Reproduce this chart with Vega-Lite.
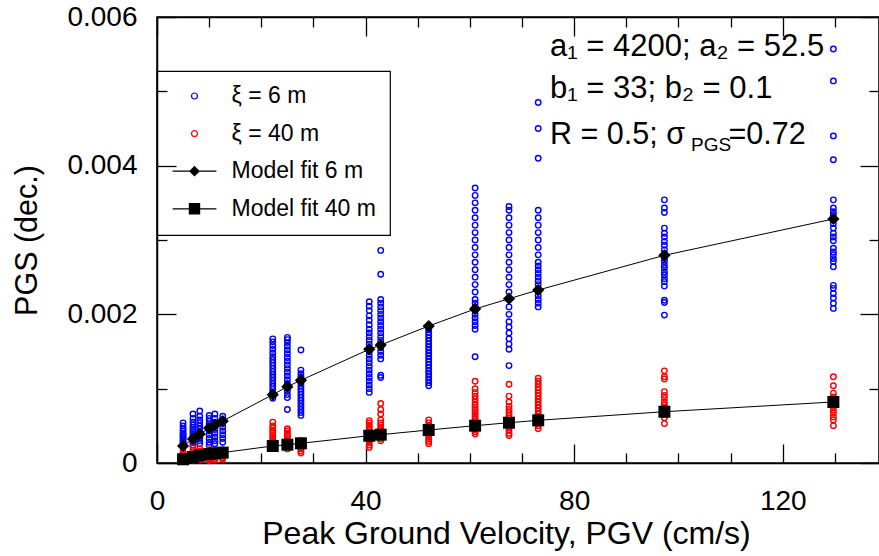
{
"$schema":"https://vega.github.io/schema/vega-lite/v6.json",
"width":722,"height":446,
"autosize":{"type":"none"},
"padding":{"left":157,"top":17,"right":0,"bottom":93},
"background":"white",
"datasets":{
"obs":[
{"pgv":5.0,"pgs":0.00022,"s":"ξ = 6 m"},{"pgv":5.0,"pgs":0.00025,"s":"ξ = 6 m"},{"pgv":5.0,"pgs":0.00028,"s":"ξ = 6 m"},{"pgv":5.0,"pgs":0.0003,"s":"ξ = 6 m"},{"pgv":5.0,"pgs":0.00032,"s":"ξ = 6 m"},{"pgv":5.0,"pgs":0.00034,"s":"ξ = 6 m"},{"pgv":5.0,"pgs":0.00036,"s":"ξ = 6 m"},{"pgv":5.0,"pgs":0.00038,"s":"ξ = 6 m"},{"pgv":5.0,"pgs":0.0004,"s":"ξ = 6 m"},{"pgv":5.0,"pgs":0.00043,"s":"ξ = 6 m"},{"pgv":5.0,"pgs":0.00046,"s":"ξ = 6 m"},{"pgv":5.0,"pgs":0.0005,"s":"ξ = 6 m"},{"pgv":5.0,"pgs":0.00054,"s":"ξ = 6 m"},
{"pgv":6.9,"pgs":0.00024,"s":"ξ = 6 m"},{"pgv":6.9,"pgs":0.00027,"s":"ξ = 6 m"},{"pgv":6.9,"pgs":0.0003,"s":"ξ = 6 m"},{"pgv":6.9,"pgs":0.00033,"s":"ξ = 6 m"},{"pgv":6.9,"pgs":0.00036,"s":"ξ = 6 m"},{"pgv":6.9,"pgs":0.00039,"s":"ξ = 6 m"},{"pgv":6.9,"pgs":0.00042,"s":"ξ = 6 m"},{"pgv":6.9,"pgs":0.00045,"s":"ξ = 6 m"},{"pgv":6.9,"pgs":0.00048,"s":"ξ = 6 m"},{"pgv":6.9,"pgs":0.00051,"s":"ξ = 6 m"},{"pgv":6.9,"pgs":0.00055,"s":"ξ = 6 m"},{"pgv":6.9,"pgs":0.0006,"s":"ξ = 6 m"},{"pgv":6.9,"pgs":0.00066,"s":"ξ = 6 m"},
{"pgv":8.2,"pgs":0.00026,"s":"ξ = 6 m"},{"pgv":8.2,"pgs":0.0003,"s":"ξ = 6 m"},{"pgv":8.2,"pgs":0.00034,"s":"ξ = 6 m"},{"pgv":8.2,"pgs":0.00038,"s":"ξ = 6 m"},{"pgv":8.2,"pgs":0.00042,"s":"ξ = 6 m"},{"pgv":8.2,"pgs":0.00046,"s":"ξ = 6 m"},{"pgv":8.2,"pgs":0.0005,"s":"ξ = 6 m"},{"pgv":8.2,"pgs":0.00054,"s":"ξ = 6 m"},{"pgv":8.2,"pgs":0.00058,"s":"ξ = 6 m"},{"pgv":8.2,"pgs":0.00063,"s":"ξ = 6 m"},{"pgv":8.2,"pgs":0.0007,"s":"ξ = 6 m"},
{"pgv":10.0,"pgs":0.00024,"s":"ξ = 6 m"},{"pgv":10.0,"pgs":0.00028,"s":"ξ = 6 m"},{"pgv":10.0,"pgs":0.00033,"s":"ξ = 6 m"},{"pgv":10.0,"pgs":0.00038,"s":"ξ = 6 m"},{"pgv":10.0,"pgs":0.00043,"s":"ξ = 6 m"},{"pgv":10.0,"pgs":0.00048,"s":"ξ = 6 m"},{"pgv":10.0,"pgs":0.00052,"s":"ξ = 6 m"},{"pgv":10.0,"pgs":0.00056,"s":"ξ = 6 m"},{"pgv":10.0,"pgs":0.0006,"s":"ξ = 6 m"},{"pgv":10.0,"pgs":0.00064,"s":"ξ = 6 m"},
{"pgv":11.1,"pgs":0.00026,"s":"ξ = 6 m"},{"pgv":11.1,"pgs":0.0003,"s":"ξ = 6 m"},{"pgv":11.1,"pgs":0.00035,"s":"ξ = 6 m"},{"pgv":11.1,"pgs":0.0004,"s":"ξ = 6 m"},{"pgv":11.1,"pgs":0.00045,"s":"ξ = 6 m"},{"pgv":11.1,"pgs":0.0005,"s":"ξ = 6 m"},{"pgv":11.1,"pgs":0.00055,"s":"ξ = 6 m"},{"pgv":11.1,"pgs":0.0006,"s":"ξ = 6 m"},{"pgv":11.1,"pgs":0.00066,"s":"ξ = 6 m"},
{"pgv":12.6,"pgs":0.00028,"s":"ξ = 6 m"},{"pgv":12.6,"pgs":0.00033,"s":"ξ = 6 m"},{"pgv":12.6,"pgs":0.00038,"s":"ξ = 6 m"},{"pgv":12.6,"pgs":0.00043,"s":"ξ = 6 m"},{"pgv":12.6,"pgs":0.00048,"s":"ξ = 6 m"},{"pgv":12.6,"pgs":0.00053,"s":"ξ = 6 m"},{"pgv":12.6,"pgs":0.00058,"s":"ξ = 6 m"},{"pgv":12.6,"pgs":0.00063,"s":"ξ = 6 m"},
{"pgv":22.2,"pgs":0.00087,"s":"ξ = 6 m"},{"pgv":22.2,"pgs":0.00091,"s":"ξ = 6 m"},{"pgv":22.2,"pgs":0.00095,"s":"ξ = 6 m"},{"pgv":22.2,"pgs":0.00099,"s":"ξ = 6 m"},{"pgv":22.2,"pgs":0.00103,"s":"ξ = 6 m"},{"pgv":22.2,"pgs":0.00107,"s":"ξ = 6 m"},{"pgv":22.2,"pgs":0.00111,"s":"ξ = 6 m"},{"pgv":22.2,"pgs":0.00115,"s":"ξ = 6 m"},{"pgv":22.2,"pgs":0.00119,"s":"ξ = 6 m"},{"pgv":22.2,"pgs":0.00123,"s":"ξ = 6 m"},{"pgv":22.2,"pgs":0.00127,"s":"ξ = 6 m"},{"pgv":22.2,"pgs":0.00131,"s":"ξ = 6 m"},{"pgv":22.2,"pgs":0.00135,"s":"ξ = 6 m"},{"pgv":22.2,"pgs":0.00139,"s":"ξ = 6 m"},{"pgv":22.2,"pgs":0.00143,"s":"ξ = 6 m"},{"pgv":22.2,"pgs":0.00148,"s":"ξ = 6 m"},{"pgv":22.2,"pgs":0.00153,"s":"ξ = 6 m"},{"pgv":22.2,"pgs":0.00158,"s":"ξ = 6 m"},{"pgv":22.2,"pgs":0.00163,"s":"ξ = 6 m"},{"pgv":22.2,"pgs":0.00167,"s":"ξ = 6 m"},
{"pgv":25.0,"pgs":0.00072,"s":"ξ = 6 m"},{"pgv":25.0,"pgs":0.00088,"s":"ξ = 6 m"},{"pgv":25.0,"pgs":0.00092,"s":"ξ = 6 m"},{"pgv":25.0,"pgs":0.00097,"s":"ξ = 6 m"},{"pgv":25.0,"pgs":0.00102,"s":"ξ = 6 m"},{"pgv":25.0,"pgs":0.00107,"s":"ξ = 6 m"},{"pgv":25.0,"pgs":0.00112,"s":"ξ = 6 m"},{"pgv":25.0,"pgs":0.00117,"s":"ξ = 6 m"},{"pgv":25.0,"pgs":0.00122,"s":"ξ = 6 m"},{"pgv":25.0,"pgs":0.00127,"s":"ξ = 6 m"},{"pgv":25.0,"pgs":0.00132,"s":"ξ = 6 m"},{"pgv":25.0,"pgs":0.00137,"s":"ξ = 6 m"},{"pgv":25.0,"pgs":0.00142,"s":"ξ = 6 m"},{"pgv":25.0,"pgs":0.00147,"s":"ξ = 6 m"},{"pgv":25.0,"pgs":0.00152,"s":"ξ = 6 m"},{"pgv":25.0,"pgs":0.00157,"s":"ξ = 6 m"},{"pgv":25.0,"pgs":0.00162,"s":"ξ = 6 m"},{"pgv":25.0,"pgs":0.00166,"s":"ξ = 6 m"},{"pgv":25.0,"pgs":0.00169,"s":"ξ = 6 m"},
{"pgv":27.6,"pgs":0.00064,"s":"ξ = 6 m"},{"pgv":27.6,"pgs":0.00068,"s":"ξ = 6 m"},{"pgv":27.6,"pgs":0.00072,"s":"ξ = 6 m"},{"pgv":27.6,"pgs":0.00076,"s":"ξ = 6 m"},{"pgv":27.6,"pgs":0.0008,"s":"ξ = 6 m"},{"pgv":27.6,"pgs":0.00084,"s":"ξ = 6 m"},{"pgv":27.6,"pgs":0.00088,"s":"ξ = 6 m"},{"pgv":27.6,"pgs":0.00092,"s":"ξ = 6 m"},{"pgv":27.6,"pgs":0.00096,"s":"ξ = 6 m"},{"pgv":27.6,"pgs":0.001,"s":"ξ = 6 m"},{"pgv":27.6,"pgs":0.00104,"s":"ξ = 6 m"},{"pgv":27.6,"pgs":0.00108,"s":"ξ = 6 m"},{"pgv":27.6,"pgs":0.00112,"s":"ξ = 6 m"},{"pgv":27.6,"pgs":0.00116,"s":"ξ = 6 m"},{"pgv":27.6,"pgs":0.0012,"s":"ξ = 6 m"},{"pgv":27.6,"pgs":0.00125,"s":"ξ = 6 m"},{"pgv":27.6,"pgs":0.00152,"s":"ξ = 6 m"},
{"pgv":40.7,"pgs":0.00095,"s":"ξ = 6 m"},{"pgv":40.7,"pgs":0.001,"s":"ξ = 6 m"},{"pgv":40.7,"pgs":0.00105,"s":"ξ = 6 m"},{"pgv":40.7,"pgs":0.0011,"s":"ξ = 6 m"},{"pgv":40.7,"pgs":0.00115,"s":"ξ = 6 m"},{"pgv":40.7,"pgs":0.0012,"s":"ξ = 6 m"},{"pgv":40.7,"pgs":0.00125,"s":"ξ = 6 m"},{"pgv":40.7,"pgs":0.0013,"s":"ξ = 6 m"},{"pgv":40.7,"pgs":0.00135,"s":"ξ = 6 m"},{"pgv":40.7,"pgs":0.0014,"s":"ξ = 6 m"},{"pgv":40.7,"pgs":0.00145,"s":"ξ = 6 m"},{"pgv":40.7,"pgs":0.0015,"s":"ξ = 6 m"},{"pgv":40.7,"pgs":0.00155,"s":"ξ = 6 m"},{"pgv":40.7,"pgs":0.0016,"s":"ξ = 6 m"},{"pgv":40.7,"pgs":0.00165,"s":"ξ = 6 m"},{"pgv":40.7,"pgs":0.0017,"s":"ξ = 6 m"},{"pgv":40.7,"pgs":0.00175,"s":"ξ = 6 m"},{"pgv":40.7,"pgs":0.0018,"s":"ξ = 6 m"},{"pgv":40.7,"pgs":0.00186,"s":"ξ = 6 m"},{"pgv":40.7,"pgs":0.00192,"s":"ξ = 6 m"},{"pgv":40.7,"pgs":0.00198,"s":"ξ = 6 m"},{"pgv":40.7,"pgs":0.00205,"s":"ξ = 6 m"},{"pgv":40.7,"pgs":0.00211,"s":"ξ = 6 m"},{"pgv":40.7,"pgs":0.00217,"s":"ξ = 6 m"},
{"pgv":42.9,"pgs":0.00115,"s":"ξ = 6 m"},{"pgv":42.9,"pgs":0.00118,"s":"ξ = 6 m"},{"pgv":42.9,"pgs":0.0014,"s":"ξ = 6 m"},{"pgv":42.9,"pgs":0.00145,"s":"ξ = 6 m"},{"pgv":42.9,"pgs":0.0015,"s":"ξ = 6 m"},{"pgv":42.9,"pgs":0.00155,"s":"ξ = 6 m"},{"pgv":42.9,"pgs":0.0016,"s":"ξ = 6 m"},{"pgv":42.9,"pgs":0.00165,"s":"ξ = 6 m"},{"pgv":42.9,"pgs":0.0017,"s":"ξ = 6 m"},{"pgv":42.9,"pgs":0.00175,"s":"ξ = 6 m"},{"pgv":42.9,"pgs":0.0018,"s":"ξ = 6 m"},{"pgv":42.9,"pgs":0.00185,"s":"ξ = 6 m"},{"pgv":42.9,"pgs":0.0019,"s":"ξ = 6 m"},{"pgv":42.9,"pgs":0.00195,"s":"ξ = 6 m"},{"pgv":42.9,"pgs":0.002,"s":"ξ = 6 m"},{"pgv":42.9,"pgs":0.00205,"s":"ξ = 6 m"},{"pgv":42.9,"pgs":0.0021,"s":"ξ = 6 m"},{"pgv":42.9,"pgs":0.00215,"s":"ξ = 6 m"},{"pgv":42.9,"pgs":0.0022,"s":"ξ = 6 m"},{"pgv":42.9,"pgs":0.00254,"s":"ξ = 6 m"},{"pgv":42.9,"pgs":0.00286,"s":"ξ = 6 m"},
{"pgv":52.1,"pgs":0.00104,"s":"ξ = 6 m"},{"pgv":52.1,"pgs":0.00108,"s":"ξ = 6 m"},{"pgv":52.1,"pgs":0.00112,"s":"ξ = 6 m"},{"pgv":52.1,"pgs":0.00116,"s":"ξ = 6 m"},{"pgv":52.1,"pgs":0.0012,"s":"ξ = 6 m"},{"pgv":52.1,"pgs":0.00124,"s":"ξ = 6 m"},{"pgv":52.1,"pgs":0.00128,"s":"ξ = 6 m"},{"pgv":52.1,"pgs":0.00132,"s":"ξ = 6 m"},{"pgv":52.1,"pgs":0.00136,"s":"ξ = 6 m"},{"pgv":52.1,"pgs":0.0014,"s":"ξ = 6 m"},{"pgv":52.1,"pgs":0.00144,"s":"ξ = 6 m"},{"pgv":52.1,"pgs":0.00148,"s":"ξ = 6 m"},{"pgv":52.1,"pgs":0.00152,"s":"ξ = 6 m"},{"pgv":52.1,"pgs":0.00156,"s":"ξ = 6 m"},{"pgv":52.1,"pgs":0.0016,"s":"ξ = 6 m"},{"pgv":52.1,"pgs":0.00164,"s":"ξ = 6 m"},{"pgv":52.1,"pgs":0.00168,"s":"ξ = 6 m"},{"pgv":52.1,"pgs":0.00172,"s":"ξ = 6 m"},{"pgv":52.1,"pgs":0.00176,"s":"ξ = 6 m"},{"pgv":52.1,"pgs":0.0018,"s":"ξ = 6 m"},{"pgv":52.1,"pgs":0.00184,"s":"ξ = 6 m"},
{"pgv":61.0,"pgs":0.00143,"s":"ξ = 6 m"},{"pgv":61.0,"pgs":0.0018,"s":"ξ = 6 m"},{"pgv":61.0,"pgs":0.00185,"s":"ξ = 6 m"},{"pgv":61.0,"pgs":0.0019,"s":"ξ = 6 m"},{"pgv":61.0,"pgs":0.00195,"s":"ξ = 6 m"},{"pgv":61.0,"pgs":0.002,"s":"ξ = 6 m"},{"pgv":61.0,"pgs":0.00205,"s":"ξ = 6 m"},{"pgv":61.0,"pgs":0.0021,"s":"ξ = 6 m"},{"pgv":61.0,"pgs":0.00215,"s":"ξ = 6 m"},{"pgv":61.0,"pgs":0.0022,"s":"ξ = 6 m"},{"pgv":61.0,"pgs":0.0023,"s":"ξ = 6 m"},{"pgv":61.0,"pgs":0.0024,"s":"ξ = 6 m"},{"pgv":61.0,"pgs":0.0025,"s":"ξ = 6 m"},{"pgv":61.0,"pgs":0.0026,"s":"ξ = 6 m"},{"pgv":61.0,"pgs":0.0027,"s":"ξ = 6 m"},{"pgv":61.0,"pgs":0.0028,"s":"ξ = 6 m"},{"pgv":61.0,"pgs":0.0029,"s":"ξ = 6 m"},{"pgv":61.0,"pgs":0.003,"s":"ξ = 6 m"},{"pgv":61.0,"pgs":0.0031,"s":"ξ = 6 m"},{"pgv":61.0,"pgs":0.0032,"s":"ξ = 6 m"},{"pgv":61.0,"pgs":0.0033,"s":"ξ = 6 m"},{"pgv":61.0,"pgs":0.0034,"s":"ξ = 6 m"},{"pgv":61.0,"pgs":0.0035,"s":"ξ = 6 m"},{"pgv":61.0,"pgs":0.0036,"s":"ξ = 6 m"},{"pgv":61.0,"pgs":0.0037,"s":"ξ = 6 m"},
{"pgv":67.5,"pgs":0.00131,"s":"ξ = 6 m"},{"pgv":67.5,"pgs":0.00153,"s":"ξ = 6 m"},{"pgv":67.5,"pgs":0.0016,"s":"ξ = 6 m"},{"pgv":67.5,"pgs":0.00167,"s":"ξ = 6 m"},{"pgv":67.5,"pgs":0.00175,"s":"ξ = 6 m"},{"pgv":67.5,"pgs":0.00183,"s":"ξ = 6 m"},{"pgv":67.5,"pgs":0.0019,"s":"ξ = 6 m"},{"pgv":67.5,"pgs":0.002,"s":"ξ = 6 m"},{"pgv":67.5,"pgs":0.0021,"s":"ξ = 6 m"},{"pgv":67.5,"pgs":0.0022,"s":"ξ = 6 m"},{"pgv":67.5,"pgs":0.0023,"s":"ξ = 6 m"},{"pgv":67.5,"pgs":0.0024,"s":"ξ = 6 m"},{"pgv":67.5,"pgs":0.0025,"s":"ξ = 6 m"},{"pgv":67.5,"pgs":0.0026,"s":"ξ = 6 m"},{"pgv":67.5,"pgs":0.0027,"s":"ξ = 6 m"},{"pgv":67.5,"pgs":0.0028,"s":"ξ = 6 m"},{"pgv":67.5,"pgs":0.0029,"s":"ξ = 6 m"},{"pgv":67.5,"pgs":0.003,"s":"ξ = 6 m"},{"pgv":67.5,"pgs":0.0031,"s":"ξ = 6 m"},{"pgv":67.5,"pgs":0.0032,"s":"ξ = 6 m"},{"pgv":67.5,"pgs":0.0033,"s":"ξ = 6 m"},{"pgv":67.5,"pgs":0.0034,"s":"ξ = 6 m"},{"pgv":67.5,"pgs":0.00345,"s":"ξ = 6 m"},
{"pgv":73.1,"pgs":0.0021,"s":"ξ = 6 m"},{"pgv":73.1,"pgs":0.00215,"s":"ξ = 6 m"},{"pgv":73.1,"pgs":0.0022,"s":"ξ = 6 m"},{"pgv":73.1,"pgs":0.00225,"s":"ξ = 6 m"},{"pgv":73.1,"pgs":0.0023,"s":"ξ = 6 m"},{"pgv":73.1,"pgs":0.00235,"s":"ξ = 6 m"},{"pgv":73.1,"pgs":0.0024,"s":"ξ = 6 m"},{"pgv":73.1,"pgs":0.00245,"s":"ξ = 6 m"},{"pgv":73.1,"pgs":0.0025,"s":"ξ = 6 m"},{"pgv":73.1,"pgs":0.00255,"s":"ξ = 6 m"},{"pgv":73.1,"pgs":0.0026,"s":"ξ = 6 m"},{"pgv":73.1,"pgs":0.00265,"s":"ξ = 6 m"},{"pgv":73.1,"pgs":0.0027,"s":"ξ = 6 m"},{"pgv":73.1,"pgs":0.0028,"s":"ξ = 6 m"},{"pgv":73.1,"pgs":0.0029,"s":"ξ = 6 m"},{"pgv":73.1,"pgs":0.003,"s":"ξ = 6 m"},{"pgv":73.1,"pgs":0.0031,"s":"ξ = 6 m"},{"pgv":73.1,"pgs":0.0032,"s":"ξ = 6 m"},{"pgv":73.1,"pgs":0.0033,"s":"ξ = 6 m"},{"pgv":73.1,"pgs":0.0034,"s":"ξ = 6 m"},{"pgv":73.1,"pgs":0.0041,"s":"ξ = 6 m"},{"pgv":73.1,"pgs":0.0045,"s":"ξ = 6 m"},{"pgv":73.1,"pgs":0.00485,"s":"ξ = 6 m"},
{"pgv":97.3,"pgs":0.00354,"s":"ξ = 6 m"},{"pgv":97.3,"pgs":0.00343,"s":"ξ = 6 m"},{"pgv":97.3,"pgs":0.00337,"s":"ξ = 6 m"},{"pgv":97.3,"pgs":0.00316,"s":"ξ = 6 m"},{"pgv":97.3,"pgs":0.00309,"s":"ξ = 6 m"},{"pgv":97.3,"pgs":0.00304,"s":"ξ = 6 m"},{"pgv":97.3,"pgs":0.00298,"s":"ξ = 6 m"},{"pgv":97.3,"pgs":0.00293,"s":"ξ = 6 m"},{"pgv":97.3,"pgs":0.00287,"s":"ξ = 6 m"},{"pgv":97.3,"pgs":0.00282,"s":"ξ = 6 m"},{"pgv":97.3,"pgs":0.00275,"s":"ξ = 6 m"},{"pgv":97.3,"pgs":0.00271,"s":"ξ = 6 m"},{"pgv":97.3,"pgs":0.00266,"s":"ξ = 6 m"},{"pgv":97.3,"pgs":0.00262,"s":"ξ = 6 m"},{"pgv":97.3,"pgs":0.00257,"s":"ξ = 6 m"},{"pgv":97.3,"pgs":0.00253,"s":"ξ = 6 m"},{"pgv":97.3,"pgs":0.00248,"s":"ξ = 6 m"},{"pgv":97.3,"pgs":0.00244,"s":"ξ = 6 m"},{"pgv":97.3,"pgs":0.00238,"s":"ξ = 6 m"},{"pgv":97.3,"pgs":0.00219,"s":"ξ = 6 m"},{"pgv":97.3,"pgs":0.00216,"s":"ξ = 6 m"},{"pgv":97.3,"pgs":0.00199,"s":"ξ = 6 m"},
{"pgv":129.7,"pgs":0.00557,"s":"ξ = 6 m"},{"pgv":129.7,"pgs":0.00514,"s":"ξ = 6 m"},{"pgv":129.7,"pgs":0.0044,"s":"ξ = 6 m"},{"pgv":129.7,"pgs":0.00408,"s":"ξ = 6 m"},{"pgv":129.7,"pgs":0.00354,"s":"ξ = 6 m"},{"pgv":129.7,"pgs":0.00343,"s":"ξ = 6 m"},{"pgv":129.7,"pgs":0.00338,"s":"ξ = 6 m"},{"pgv":129.7,"pgs":0.00334,"s":"ξ = 6 m"},{"pgv":129.7,"pgs":0.00322,"s":"ξ = 6 m"},{"pgv":129.7,"pgs":0.00316,"s":"ξ = 6 m"},{"pgv":129.7,"pgs":0.00309,"s":"ξ = 6 m"},{"pgv":129.7,"pgs":0.00304,"s":"ξ = 6 m"},{"pgv":129.7,"pgs":0.00299,"s":"ξ = 6 m"},{"pgv":129.7,"pgs":0.00289,"s":"ξ = 6 m"},{"pgv":129.7,"pgs":0.00284,"s":"ξ = 6 m"},{"pgv":129.7,"pgs":0.0028,"s":"ξ = 6 m"},{"pgv":129.7,"pgs":0.00275,"s":"ξ = 6 m"},{"pgv":129.7,"pgs":0.00271,"s":"ξ = 6 m"},{"pgv":129.7,"pgs":0.00264,"s":"ξ = 6 m"},{"pgv":129.7,"pgs":0.00239,"s":"ξ = 6 m"},{"pgv":129.7,"pgs":0.00235,"s":"ξ = 6 m"},{"pgv":129.7,"pgs":0.00228,"s":"ξ = 6 m"},{"pgv":129.7,"pgs":0.00222,"s":"ξ = 6 m"},{"pgv":129.7,"pgs":0.00215,"s":"ξ = 6 m"},{"pgv":129.7,"pgs":0.00208,"s":"ξ = 6 m"},
{"pgv":5.0,"pgs":0.00003,"s":"ξ = 40 m"},{"pgv":5.0,"pgs":0.00005,"s":"ξ = 40 m"},{"pgv":5.0,"pgs":0.00007,"s":"ξ = 40 m"},{"pgv":5.0,"pgs":0.00009,"s":"ξ = 40 m"},{"pgv":5.0,"pgs":0.00011,"s":"ξ = 40 m"},{"pgv":5.0,"pgs":0.00013,"s":"ξ = 40 m"},{"pgv":5.0,"pgs":0.00015,"s":"ξ = 40 m"},
{"pgv":6.9,"pgs":0.00004,"s":"ξ = 40 m"},{"pgv":6.9,"pgs":0.00006,"s":"ξ = 40 m"},{"pgv":6.9,"pgs":0.00008,"s":"ξ = 40 m"},{"pgv":6.9,"pgs":0.0001,"s":"ξ = 40 m"},{"pgv":6.9,"pgs":0.00012,"s":"ξ = 40 m"},{"pgv":6.9,"pgs":0.00014,"s":"ξ = 40 m"},{"pgv":6.9,"pgs":0.00017,"s":"ξ = 40 m"},{"pgv":6.9,"pgs":0.00021,"s":"ξ = 40 m"},
{"pgv":8.2,"pgs":0.00004,"s":"ξ = 40 m"},{"pgv":8.2,"pgs":0.00006,"s":"ξ = 40 m"},{"pgv":8.2,"pgs":0.00008,"s":"ξ = 40 m"},{"pgv":8.2,"pgs":0.0001,"s":"ξ = 40 m"},{"pgv":8.2,"pgs":0.00012,"s":"ξ = 40 m"},{"pgv":8.2,"pgs":0.00014,"s":"ξ = 40 m"},{"pgv":8.2,"pgs":0.00016,"s":"ξ = 40 m"},{"pgv":8.2,"pgs":0.00019,"s":"ξ = 40 m"},
{"pgv":10.0,"pgs":0.00003,"s":"ξ = 40 m"},{"pgv":10.0,"pgs":0.00005,"s":"ξ = 40 m"},{"pgv":10.0,"pgs":0.00007,"s":"ξ = 40 m"},{"pgv":10.0,"pgs":0.00009,"s":"ξ = 40 m"},{"pgv":10.0,"pgs":0.00011,"s":"ξ = 40 m"},{"pgv":10.0,"pgs":0.00013,"s":"ξ = 40 m"},{"pgv":10.0,"pgs":0.00015,"s":"ξ = 40 m"},{"pgv":10.0,"pgs":0.00018,"s":"ξ = 40 m"},
{"pgv":11.1,"pgs":0.00004,"s":"ξ = 40 m"},{"pgv":11.1,"pgs":0.00006,"s":"ξ = 40 m"},{"pgv":11.1,"pgs":0.00008,"s":"ξ = 40 m"},{"pgv":11.1,"pgs":0.0001,"s":"ξ = 40 m"},{"pgv":11.1,"pgs":0.00012,"s":"ξ = 40 m"},{"pgv":11.1,"pgs":0.00014,"s":"ξ = 40 m"},{"pgv":11.1,"pgs":0.00017,"s":"ξ = 40 m"},
{"pgv":12.6,"pgs":0.00005,"s":"ξ = 40 m"},{"pgv":12.6,"pgs":0.00007,"s":"ξ = 40 m"},{"pgv":12.6,"pgs":0.00009,"s":"ξ = 40 m"},{"pgv":12.6,"pgs":0.00011,"s":"ξ = 40 m"},{"pgv":12.6,"pgs":0.00013,"s":"ξ = 40 m"},{"pgv":12.6,"pgs":0.00015,"s":"ξ = 40 m"},{"pgv":12.6,"pgs":0.00018,"s":"ξ = 40 m"},
{"pgv":22.2,"pgs":0.00023,"s":"ξ = 40 m"},{"pgv":22.2,"pgs":0.00026,"s":"ξ = 40 m"},{"pgv":22.2,"pgs":0.00029,"s":"ξ = 40 m"},{"pgv":22.2,"pgs":0.00032,"s":"ξ = 40 m"},{"pgv":22.2,"pgs":0.00035,"s":"ξ = 40 m"},{"pgv":22.2,"pgs":0.00038,"s":"ξ = 40 m"},{"pgv":22.2,"pgs":0.00041,"s":"ξ = 40 m"},{"pgv":22.2,"pgs":0.00044,"s":"ξ = 40 m"},{"pgv":22.2,"pgs":0.00047,"s":"ξ = 40 m"},{"pgv":22.2,"pgs":0.0005,"s":"ξ = 40 m"},{"pgv":22.2,"pgs":0.00055,"s":"ξ = 40 m"},
{"pgv":25.0,"pgs":0.00019,"s":"ξ = 40 m"},{"pgv":25.0,"pgs":0.00022,"s":"ξ = 40 m"},{"pgv":25.0,"pgs":0.00025,"s":"ξ = 40 m"},{"pgv":25.0,"pgs":0.00028,"s":"ξ = 40 m"},{"pgv":25.0,"pgs":0.00031,"s":"ξ = 40 m"},{"pgv":25.0,"pgs":0.00034,"s":"ξ = 40 m"},{"pgv":25.0,"pgs":0.00037,"s":"ξ = 40 m"},{"pgv":25.0,"pgs":0.0004,"s":"ξ = 40 m"},{"pgv":25.0,"pgs":0.00043,"s":"ξ = 40 m"},{"pgv":25.0,"pgs":0.00046,"s":"ξ = 40 m"},
{"pgv":27.6,"pgs":0.000134,"s":"ξ = 40 m"},{"pgv":27.6,"pgs":0.00016,"s":"ξ = 40 m"},{"pgv":27.6,"pgs":0.00019,"s":"ξ = 40 m"},{"pgv":27.6,"pgs":0.00022,"s":"ξ = 40 m"},{"pgv":27.6,"pgs":0.00025,"s":"ξ = 40 m"},{"pgv":27.6,"pgs":0.00028,"s":"ξ = 40 m"},{"pgv":27.6,"pgs":0.0003,"s":"ξ = 40 m"},
{"pgv":40.7,"pgs":0.00021,"s":"ξ = 40 m"},{"pgv":40.7,"pgs":0.00024,"s":"ξ = 40 m"},{"pgv":40.7,"pgs":0.00027,"s":"ξ = 40 m"},{"pgv":40.7,"pgs":0.0003,"s":"ξ = 40 m"},{"pgv":40.7,"pgs":0.00033,"s":"ξ = 40 m"},{"pgv":40.7,"pgs":0.00036,"s":"ξ = 40 m"},{"pgv":40.7,"pgs":0.00039,"s":"ξ = 40 m"},{"pgv":40.7,"pgs":0.00042,"s":"ξ = 40 m"},{"pgv":40.7,"pgs":0.00045,"s":"ξ = 40 m"},{"pgv":40.7,"pgs":0.00048,"s":"ξ = 40 m"},{"pgv":40.7,"pgs":0.00051,"s":"ξ = 40 m"},{"pgv":40.7,"pgs":0.00054,"s":"ξ = 40 m"},{"pgv":40.7,"pgs":0.00057,"s":"ξ = 40 m"},
{"pgv":42.9,"pgs":0.0003,"s":"ξ = 40 m"},{"pgv":42.9,"pgs":0.00033,"s":"ξ = 40 m"},{"pgv":42.9,"pgs":0.00036,"s":"ξ = 40 m"},{"pgv":42.9,"pgs":0.00039,"s":"ξ = 40 m"},{"pgv":42.9,"pgs":0.00042,"s":"ξ = 40 m"},{"pgv":42.9,"pgs":0.00045,"s":"ξ = 40 m"},{"pgv":42.9,"pgs":0.00048,"s":"ξ = 40 m"},{"pgv":42.9,"pgs":0.00051,"s":"ξ = 40 m"},{"pgv":42.9,"pgs":0.00054,"s":"ξ = 40 m"},{"pgv":42.9,"pgs":0.00058,"s":"ξ = 40 m"},{"pgv":42.9,"pgs":0.00066,"s":"ξ = 40 m"},{"pgv":42.9,"pgs":0.00072,"s":"ξ = 40 m"},{"pgv":42.9,"pgs":0.0008,"s":"ξ = 40 m"},
{"pgv":52.1,"pgs":0.00026,"s":"ξ = 40 m"},{"pgv":52.1,"pgs":0.00029,"s":"ξ = 40 m"},{"pgv":52.1,"pgs":0.00032,"s":"ξ = 40 m"},{"pgv":52.1,"pgs":0.00035,"s":"ξ = 40 m"},{"pgv":52.1,"pgs":0.00038,"s":"ξ = 40 m"},{"pgv":52.1,"pgs":0.00041,"s":"ξ = 40 m"},{"pgv":52.1,"pgs":0.00044,"s":"ξ = 40 m"},{"pgv":52.1,"pgs":0.00047,"s":"ξ = 40 m"},{"pgv":52.1,"pgs":0.0005,"s":"ξ = 40 m"},{"pgv":52.1,"pgs":0.00054,"s":"ξ = 40 m"},{"pgv":52.1,"pgs":0.00058,"s":"ξ = 40 m"},
{"pgv":61.0,"pgs":0.00039,"s":"ξ = 40 m"},{"pgv":61.0,"pgs":0.00042,"s":"ξ = 40 m"},{"pgv":61.0,"pgs":0.00045,"s":"ξ = 40 m"},{"pgv":61.0,"pgs":0.00048,"s":"ξ = 40 m"},{"pgv":61.0,"pgs":0.00051,"s":"ξ = 40 m"},{"pgv":61.0,"pgs":0.00054,"s":"ξ = 40 m"},{"pgv":61.0,"pgs":0.00057,"s":"ξ = 40 m"},{"pgv":61.0,"pgs":0.0006,"s":"ξ = 40 m"},{"pgv":61.0,"pgs":0.00063,"s":"ξ = 40 m"},{"pgv":61.0,"pgs":0.00066,"s":"ξ = 40 m"},{"pgv":61.0,"pgs":0.00069,"s":"ξ = 40 m"},{"pgv":61.0,"pgs":0.00072,"s":"ξ = 40 m"},{"pgv":61.0,"pgs":0.00075,"s":"ξ = 40 m"},{"pgv":61.0,"pgs":0.00078,"s":"ξ = 40 m"},{"pgv":61.0,"pgs":0.00082,"s":"ξ = 40 m"},{"pgv":61.0,"pgs":0.00086,"s":"ξ = 40 m"},{"pgv":61.0,"pgs":0.0009,"s":"ξ = 40 m"},{"pgv":61.0,"pgs":0.00095,"s":"ξ = 40 m"},{"pgv":61.0,"pgs":0.001,"s":"ξ = 40 m"},{"pgv":61.0,"pgs":0.0011,"s":"ξ = 40 m"},
{"pgv":67.5,"pgs":0.00037,"s":"ξ = 40 m"},{"pgv":67.5,"pgs":0.0004,"s":"ξ = 40 m"},{"pgv":67.5,"pgs":0.00044,"s":"ξ = 40 m"},{"pgv":67.5,"pgs":0.00048,"s":"ξ = 40 m"},{"pgv":67.5,"pgs":0.00052,"s":"ξ = 40 m"},{"pgv":67.5,"pgs":0.00056,"s":"ξ = 40 m"},{"pgv":67.5,"pgs":0.0006,"s":"ξ = 40 m"},{"pgv":67.5,"pgs":0.00064,"s":"ξ = 40 m"},{"pgv":67.5,"pgs":0.00068,"s":"ξ = 40 m"},{"pgv":67.5,"pgs":0.00072,"s":"ξ = 40 m"},{"pgv":67.5,"pgs":0.00076,"s":"ξ = 40 m"},{"pgv":67.5,"pgs":0.00082,"s":"ξ = 40 m"},{"pgv":67.5,"pgs":0.0009,"s":"ξ = 40 m"},{"pgv":67.5,"pgs":0.00106,"s":"ξ = 40 m"},
{"pgv":73.1,"pgs":0.00046,"s":"ξ = 40 m"},{"pgv":73.1,"pgs":0.0005,"s":"ξ = 40 m"},{"pgv":73.1,"pgs":0.00054,"s":"ξ = 40 m"},{"pgv":73.1,"pgs":0.00058,"s":"ξ = 40 m"},{"pgv":73.1,"pgs":0.00062,"s":"ξ = 40 m"},{"pgv":73.1,"pgs":0.00066,"s":"ξ = 40 m"},{"pgv":73.1,"pgs":0.0007,"s":"ξ = 40 m"},{"pgv":73.1,"pgs":0.00074,"s":"ξ = 40 m"},{"pgv":73.1,"pgs":0.00078,"s":"ξ = 40 m"},{"pgv":73.1,"pgs":0.00082,"s":"ξ = 40 m"},{"pgv":73.1,"pgs":0.00086,"s":"ξ = 40 m"},{"pgv":73.1,"pgs":0.0009,"s":"ξ = 40 m"},{"pgv":73.1,"pgs":0.00094,"s":"ξ = 40 m"},{"pgv":73.1,"pgs":0.00098,"s":"ξ = 40 m"},{"pgv":73.1,"pgs":0.00102,"s":"ξ = 40 m"},{"pgv":73.1,"pgs":0.00106,"s":"ξ = 40 m"},{"pgv":73.1,"pgs":0.0011,"s":"ξ = 40 m"},{"pgv":73.1,"pgs":0.00114,"s":"ξ = 40 m"},
{"pgv":97.3,"pgs":0.00124,"s":"ξ = 40 m"},{"pgv":97.3,"pgs":0.00116,"s":"ξ = 40 m"},{"pgv":97.3,"pgs":0.00113,"s":"ξ = 40 m"},{"pgv":97.3,"pgs":0.00096,"s":"ξ = 40 m"},{"pgv":97.3,"pgs":0.00091,"s":"ξ = 40 m"},{"pgv":97.3,"pgs":0.00087,"s":"ξ = 40 m"},{"pgv":97.3,"pgs":0.00082,"s":"ξ = 40 m"},{"pgv":97.3,"pgs":0.00078,"s":"ξ = 40 m"},{"pgv":97.3,"pgs":0.00074,"s":"ξ = 40 m"},{"pgv":97.3,"pgs":0.00069,"s":"ξ = 40 m"},{"pgv":97.3,"pgs":0.00065,"s":"ξ = 40 m"},{"pgv":97.3,"pgs":0.00061,"s":"ξ = 40 m"},{"pgv":97.3,"pgs":0.00053,"s":"ξ = 40 m"},
{"pgv":129.7,"pgs":0.00116,"s":"ξ = 40 m"},{"pgv":129.7,"pgs":0.00104,"s":"ξ = 40 m"},{"pgv":129.7,"pgs":0.00094,"s":"ξ = 40 m"},{"pgv":129.7,"pgs":0.00089,"s":"ξ = 40 m"},{"pgv":129.7,"pgs":0.00085,"s":"ξ = 40 m"},{"pgv":129.7,"pgs":0.0008,"s":"ξ = 40 m"},{"pgv":129.7,"pgs":0.00076,"s":"ξ = 40 m"},{"pgv":129.7,"pgs":0.00071,"s":"ξ = 40 m"},{"pgv":129.7,"pgs":0.00067,"s":"ξ = 40 m"},{"pgv":129.7,"pgs":0.00062,"s":"ξ = 40 m"},{"pgv":129.7,"pgs":0.00058,"s":"ξ = 40 m"},{"pgv":129.7,"pgs":0.0005,"s":"ξ = 40 m"}
],
"model":[
{"pgv":5.0,"pgs":0.000229,"s":"Model fit 6 m"},{"pgv":6.9,"pgs":0.000323,"s":"Model fit 6 m"},{"pgv":8.2,"pgs":0.00039,"s":"Model fit 6 m"},{"pgv":10.0,"pgs":0.00047,"s":"Model fit 6 m"},{"pgv":11.1,"pgs":0.00051,"s":"Model fit 6 m"},{"pgv":12.6,"pgs":0.000565,"s":"Model fit 6 m"},{"pgv":22.2,"pgs":0.000919,"s":"Model fit 6 m"},{"pgv":25.0,"pgs":0.001027,"s":"Model fit 6 m"},{"pgv":27.6,"pgs":0.001113,"s":"Model fit 6 m"},{"pgv":40.7,"pgs":0.00153,"s":"Model fit 6 m"},{"pgv":42.9,"pgs":0.001587,"s":"Model fit 6 m"},{"pgv":52.1,"pgs":0.001843,"s":"Model fit 6 m"},{"pgv":61.0,"pgs":0.002072,"s":"Model fit 6 m"},{"pgv":67.5,"pgs":0.00221,"s":"Model fit 6 m"},{"pgv":73.1,"pgs":0.002327,"s":"Model fit 6 m"},{"pgv":97.3,"pgs":0.002794,"s":"Model fit 6 m"},{"pgv":129.7,"pgs":0.003283,"s":"Model fit 6 m"},
{"pgv":5.0,"pgs":0.00005,"s":"Model fit 40 m"},{"pgv":6.9,"pgs":0.00008,"s":"Model fit 40 m"},{"pgv":8.2,"pgs":0.0001,"s":"Model fit 40 m"},{"pgv":10.0,"pgs":0.00012,"s":"Model fit 40 m"},{"pgv":11.1,"pgs":0.00013,"s":"Model fit 40 m"},{"pgv":12.6,"pgs":0.00014,"s":"Model fit 40 m"},{"pgv":22.2,"pgs":0.000229,"s":"Model fit 40 m"},{"pgv":25.0,"pgs":0.000246,"s":"Model fit 40 m"},{"pgv":27.6,"pgs":0.000265,"s":"Model fit 40 m"},{"pgv":40.7,"pgs":0.000367,"s":"Model fit 40 m"},{"pgv":42.9,"pgs":0.000381,"s":"Model fit 40 m"},{"pgv":52.1,"pgs":0.000444,"s":"Model fit 40 m"},{"pgv":61.0,"pgs":0.000502,"s":"Model fit 40 m"},{"pgv":67.5,"pgs":0.000542,"s":"Model fit 40 m"},{"pgv":73.1,"pgs":0.000574,"s":"Model fit 40 m"},{"pgv":97.3,"pgs":0.00069,"s":"Model fit 40 m"},{"pgv":129.7,"pgs":0.000821,"s":"Model fit 40 m"}
]
},
"layer":[
{
"data":{"name":"obs"},
"mark":{"type":"point","filled":false,"size":30,"strokeWidth":1.4,"opacity":1},
"encoding":{
"x":{"field":"pgv","type":"quantitative","scale":{"domain":[0,138.45],"nice":false,"zero":false},
"axis":{"orient":"bottom","values":[0,40,80,120],"format":"d","tickSize":-19,"labelPadding":43,"labelFlush":false,"labelOverlap":false,"labelBound":false,"grid":false,"title":"Peak Ground Velocity, PGV (cm/s)","titleFontSize":32,"titleX":349,"titleY":80,"titleBaseline":"alphabetic","titleAlign":"center","titleAnchor":"start"}},
"y":{"field":"pgs","type":"quantitative","scale":{"domain":[0,0.006],"nice":false,"zero":false},
"axis":{"orient":"left","zindex":2,"values":[0,0.002,0.004,0.006],"labelExpr":"datum.value == 0 ? '0' : format(datum.value, '.3f')","tickSize":-19,"labelPadding":39,"labelFlush":false,"labelOverlap":false,"labelBound":false,"grid":false,"title":"PGS (dec.)","titleX":-121,"titleY":223,"titleAngle":-90,"titleBaseline":"alphabetic","titleAlign":"center","titleAnchor":"start"}},
"color":{"field":"s","type":"nominal","scale":{"domain":["ξ = 6 m","ξ = 40 m","Model fit 6 m","Model fit 40 m"],"range":["#0000ff","#ff0000","#000000","#000000"]},
"legend":{"title":null,"orient":"none","zindex":1,"legendX":0,"legendY":54,"fillColor":"white","strokeColor":"black","padding":13.5,"labelFont":"Liberation Sans","labelFontSize":23,"labelColor":"black","symbolSize":36,"symbolStrokeWidth":1.2,"rowPadding":13.6,"symbolOffset":12.5,"labelOffset":25.5,"labelLimit":300}},
"fill":{"field":"s","type":"nominal","scale":{"domain":["ξ = 6 m","ξ = 40 m","Model fit 6 m","Model fit 40 m"],"range":["transparent","transparent","#000000","#000000"]}},
"shape":{"field":"s","type":"nominal","scale":{"domain":["ξ = 6 m","ξ = 40 m","Model fit 6 m","Model fit 40 m"],"range":["circle","circle","M-7.3,0H7.3M0,-1.5L1.5,0L0,1.5L-1.5,0Z","M-7.3,0H7.3M-1.7,-1.7H1.7V1.7H-1.7Z"]}}
}
},
{
"data":{"name":"model"},
"mark":{"type":"line","color":"black","strokeWidth":1},
"encoding":{
"x":{"field":"pgv","type":"quantitative","scale":{"domain":[0,138.45],"nice":false,"zero":false},
"axis":{"orient":"top","values":[0,40,80,120],"labels":false,"title":null,"tickSize":-19,"grid":false}},
"y":{"field":"pgs","type":"quantitative","scale":{"domain":[0,0.006],"nice":false,"zero":false},
"axis":{"orient":"right","values":[0,0.002,0.004,0.006],"labels":false,"title":null,"tickSize":-19,"grid":false}},
"detail":{"field":"s","type":"nominal"}
}
},
{
"data":{"name":"model"},
"transform":[{"filter":"datum.s == 'Model fit 6 m'"}],
"mark":{"type":"point","shape":"diamond","filled":true,"color":"black","size":150,"opacity":1},
"encoding":{
"x":{"field":"pgv","type":"quantitative","axis":{"orient":"bottom","values":[10,20,30,50,60,70,90,100,110,130],"labels":false,"title":null,"tickSize":-10,"domain":false,"grid":false}},
"y":{"field":"pgs","type":"quantitative","axis":{"orient":"left","zindex":2,"values":[0.001,0.003,0.005],"labels":false,"title":null,"tickSize":-10,"domain":false,"grid":false}}
}
},
{
"data":{"name":"model"},
"transform":[{"filter":"datum.s == 'Model fit 40 m'"}],
"mark":{"type":"point","shape":"square","filled":true,"color":"black","size":144,"opacity":1},
"encoding":{
"x":{"field":"pgv","type":"quantitative","axis":{"orient":"top","values":[10,20,30,50,60,70,90,100,110,130],"labels":false,"title":null,"tickSize":-10,"domain":false,"grid":false}},
"y":{"field":"pgs","type":"quantitative","axis":{"orient":"right","values":[0.001,0.003,0.005],"labels":false,"title":null,"tickSize":-10,"domain":false,"grid":false}}
}
},
{
"data":{"values":[{}]},
"mark":{"type":"text","align":"left","baseline":"alphabetic","font":"Liberation Sans","fontSize":31,"color":"black"},
"encoding":{"x":{"datum":75.36,"type":"quantitative","axis":null},"y":{"datum":0.0054753,"type":"quantitative","axis":null},"text":{"value":"a₁ = 4200; a₂ = 52.5"}}
},
{
"data":{"values":[{}]},
"mark":{"type":"text","align":"left","baseline":"alphabetic","font":"Liberation Sans","fontSize":31,"color":"black"},
"encoding":{"x":{"datum":75.36,"type":"quantitative","axis":null},"y":{"datum":0.0049063,"type":"quantitative","axis":null},"text":{"value":"b₁ = 33; b₂ = 0.1"}}
},
{
"data":{"values":[{}]},
"mark":{"type":"text","align":"left","baseline":"alphabetic","font":"Liberation Sans","fontSize":30.5,"color":"black"},
"encoding":{"x":{"datum":75.36,"type":"quantitative","axis":null},"y":{"datum":0.0042874,"type":"quantitative","axis":null},"text":{"value":"R = 0.5; σ"}}
},
{
"data":{"values":[{}]},
"mark":{"type":"text","align":"left","baseline":"alphabetic","font":"Liberation Sans","fontSize":19,"color":"black"},
"encoding":{"x":{"datum":102.4,"type":"quantitative","axis":null},"y":{"datum":0.0041906,"type":"quantitative","axis":null},"text":{"value":"PGS"}}
},
{
"data":{"values":[{}]},
"mark":{"type":"text","align":"left","baseline":"alphabetic","font":"Liberation Sans","fontSize":30.5,"color":"black"},
"encoding":{"x":{"datum":109.6,"type":"quantitative","axis":null},"y":{"datum":0.0042874,"type":"quantitative","axis":null},"text":{"value":"=0.72"}}
}
],
"config":{
"view":{"stroke":"black","strokeWidth":1.5},
"axis":{"domainColor":"black","domainWidth":1.5,"tickColor":"black","tickWidth":1.3,"labelColor":"black","labelFont":"Liberation Sans","labelFontSize":28,"titleFont":"Liberation Sans","titleFontSize":30.5,"titleColor":"black","titleFontWeight":"normal","grid":false},
"legend":{"strokeWidth":1.2}
}
}
